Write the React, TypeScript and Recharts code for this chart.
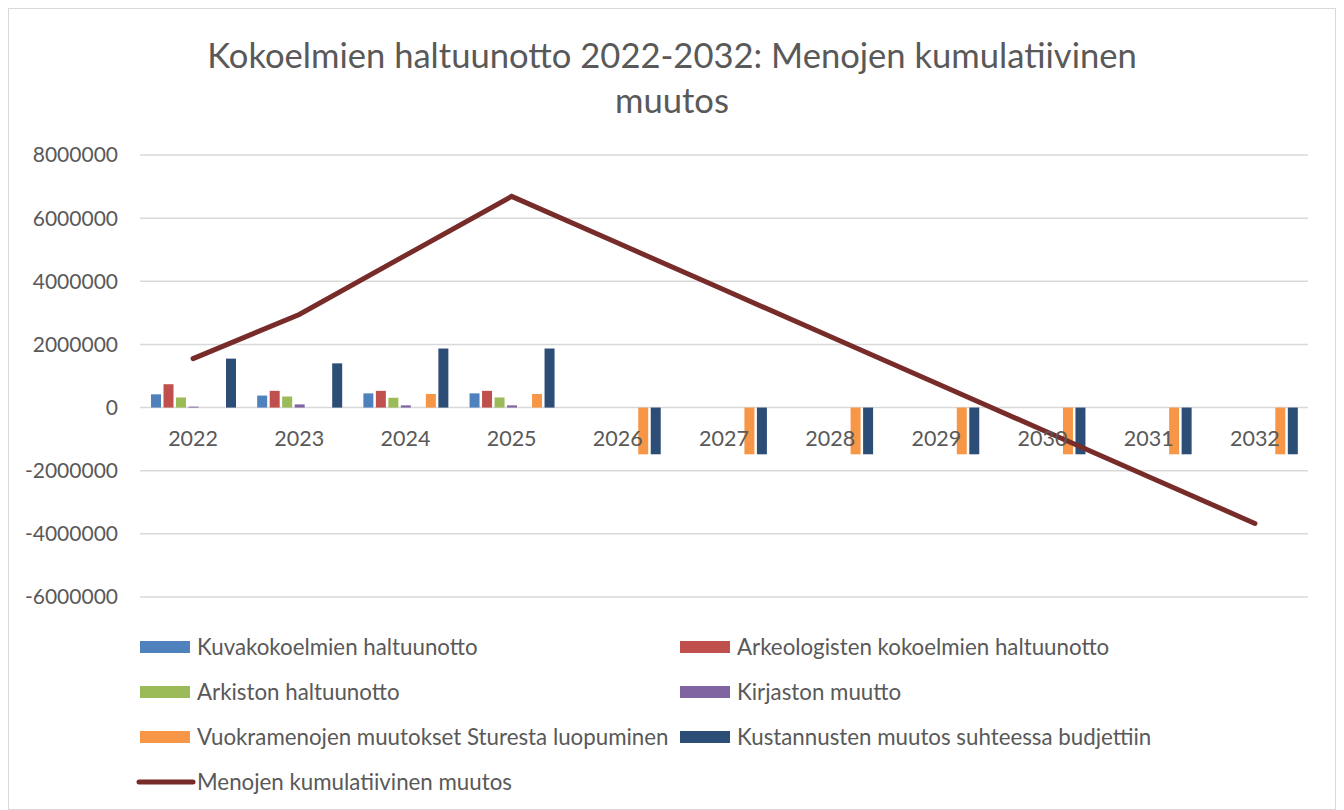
import { ComposedChart, Bar, Line, XAxis, YAxis, CartesianGrid, Legend } from "recharts";

const years = ["2022", "2023", "2024", "2025", "2026", "2027", "2028", "2029", "2030", "2031", "2032"];
const kuvakokoelmat = [420000, 380000, 450000, 450000, null, null, null, null, null, null, null];
const arkeologiset = [740000, 530000, 530000, 530000, null, null, null, null, null, null, null];
const arkisto = [320000, 350000, 310000, 320000, null, null, null, null, null, null, null];
const kirjasto = [30000, 100000, 70000, 70000, null, null, null, null, null, null, null];
const tyhja = [null, null, null, null, null, null, null, null, null, null, null];
const vuokramenot = [null, null, 430000, 430000, -1480000, -1480000, -1480000, -1480000, -1480000, -1480000, -1480000];
const kustannukset = [1550000, 1400000, 1870000, 1870000, -1480000, -1480000, -1480000, -1480000, -1480000, -1480000, -1480000];
const kumulatiivinen = [1550000, 2950000, 4820000, 6690000, 5210000, 3730000, 2250000, 770000, -710000, -2190000, -3670000];
const yTicks = [8000000, 6000000, 4000000, 2000000, 0, -2000000, -4000000, -6000000];
const legendOrder = [
  "Kuvakokoelmien haltuunotto",
  "Arkeologisten kokoelmien haltuunotto",
  "Arkiston haltuunotto",
  "Kirjaston muutto",
  "Vuokramenojen muutokset Sturesta luopuminen",
  "Kustannusten muutos suhteessa budjettiin",
  "Menojen kumulatiivinen muutos",
];

const data = years.map((y, i) => ({
  year: y,
  kuva: kuvakokoelmat[i],
  arkeo: arkeologiset[i],
  arkisto: arkisto[i],
  kirjasto: kirjasto[i],
  tyhja: tyhja[i],
  vuokra: vuokramenot[i],
  kust: kustannukset[i],
  kum: kumulatiivinen[i],
}));

const FONT = "Lato, 'Open Sans', sans-serif";
const TEXT = "#595959";
const MARGIN = { top: 146, right: 27, bottom: 211, left: 9 };
const PLOT_H = 800 - MARGIN.top - MARGIN.bottom - 1;
// y of the zero line in svg coords (domain -6M..8M)
const ZERO_Y = MARGIN.top + (PLOT_H * 8) / 14;

function YearTick(props: any) {
  const { x, payload } = props;
  return (
    <text x={x} y={ZERO_Y + 38} textAnchor="middle" fill={TEXT} fontSize={21.5} fontFamily={FONT}>
      {payload.value}
    </text>
  );
}

function LegendContent(props: any) {
  const items = (props.payload || [])
    .filter((p: any) => p.type !== "none")
    .sort((a: any, b: any) => legendOrder.indexOf(a.value) - legendOrder.indexOf(b.value));
  return (
    <div style={{ display: "grid", gridTemplateColumns: "540px 560px", fontFamily: FONT, fontSize: 22.3, color: TEXT }}>
      {items.map((it: any) => (
        <div key={it.value} style={{ height: 45, display: "flex", alignItems: "center", whiteSpace: "nowrap" }}>
          {it.type === "line" ? (
            <svg width={62} height={12} style={{ marginLeft: -5 }}>
              <line x1={4} y1={6} x2={58} y2={6} stroke={it.color} strokeWidth={5} strokeLinecap="round" />
            </svg>
          ) : (
            <span style={{ display: "inline-block", width: 50, height: 12, background: it.color, marginRight: 7 }} />
          )}
          <span>{it.value}</span>
        </div>
      ))}
    </div>
  );
}

export default function App() {
  return (
    <div style={{ position: "relative", width: 1326, height: 800, border: "1px solid #d9d9d9", background: "#fff" }}>
      <div
        style={{
          position: "absolute",
          top: 23,
          left: 0,
          width: 1326,
          textAlign: "center",
          fontFamily: FONT,
          fontSize: 34.6,
          lineHeight: "45px",
          color: TEXT,
          zIndex: 1,
        }}
      >
        Kokoelmien haltuunotto 2022-2032: Menojen kumulatiivinen
        <br />
        muutos
      </div>
      <ComposedChart
        width={1326}
        height={800}
        data={data}
        margin={MARGIN}
        barSize={10}
        barGap={2.5}
      >
        <CartesianGrid vertical={false} stroke="#d9d9d9" strokeWidth={1.5} />
        <XAxis dataKey="year" height={1} axisLine={false} tickLine={false} tick={<YearTick />} interval={0} />
        <YAxis
          width={122}
          domain={[-6000000, 8000000]}
          ticks={yTicks}
          axisLine={false}
          tickLine={false}
          tickSize={0}
          tickMargin={22}
          tick={{ fontSize: 21, fill: TEXT, fontFamily: FONT }}
        />
        <Legend
          layout="horizontal"
          verticalAlign="middle"
          wrapperStyle={{ top: 615, left: 131, width: 1120 }}
          content={<LegendContent />}
        />
        <Bar dataKey="kuva" name="Kuvakokoelmien haltuunotto" fill="#4f81bd" isAnimationActive={false} />
        <Bar dataKey="arkeo" name="Arkeologisten kokoelmien haltuunotto" fill="#c0504d" isAnimationActive={false} />
        <Bar dataKey="arkisto" name="Arkiston haltuunotto" fill="#9bbb59" isAnimationActive={false} />
        <Bar dataKey="kirjasto" name="Kirjaston muutto" fill="#8064a2" isAnimationActive={false} />
        <Bar dataKey="tyhja" name="tyhja" fill="#4bacc6" legendType="none" isAnimationActive={false} />
        <Bar dataKey="vuokra" name="Vuokramenojen muutokset Sturesta luopuminen" fill="#f79646" isAnimationActive={false} />
        <Bar dataKey="kust" name="Kustannusten muutos suhteessa budjettiin" fill="#2c4d75" isAnimationActive={false} />
        <Line
          dataKey="kum"
          name="Menojen kumulatiivinen muutos"
          stroke="#772c2a"
          strokeWidth={5}
          strokeLinecap="round"
          dot={false}
          activeDot={false}
          legendType="line"
          isAnimationActive={false}
        />
      </ComposedChart>
    </div>
  );
}
